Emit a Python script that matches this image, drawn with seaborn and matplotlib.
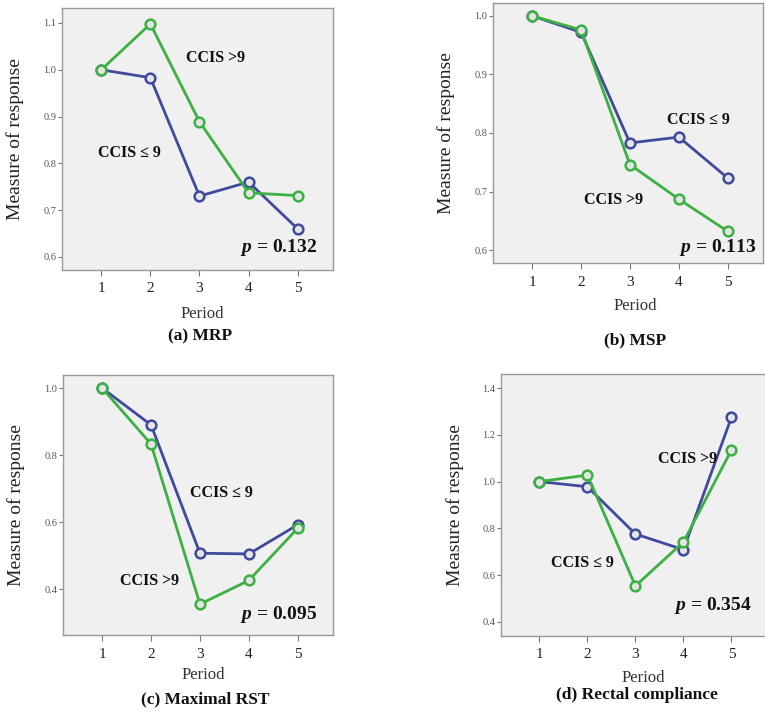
import matplotlib
matplotlib.use('Agg')
import matplotlib.pyplot as plt
import numpy as np
import pandas as pd
import seaborn as sns

periods = [1, 2, 3, 4, 5]

mrp_low = [1.000, 0.983, 0.730, 0.760, 0.660]
mrp_high = [1.000, 1.098, 0.889, 0.737, 0.731]

msp_low = [1.000, 0.972, 0.783, 0.793, 0.723]
msp_high = [1.000, 0.976, 0.746, 0.687, 0.632]

rst_low = [1.000, 0.890, 0.507, 0.505, 0.592]
rst_high = [1.000, 0.833, 0.355, 0.426, 0.582]

comp_low = [1.000, 0.978, 0.776, 0.709, 1.275]
comp_high = [1.000, 1.028, 0.554, 0.742, 1.135]

groups = ['CCIS \u2264 9', 'CCIS >9']
captions = ['(a) MRP', '(b) MSP', '(c) Maximal RST', '(d) Rectal compliance']
p_values = ['0.132', '0.113', '0.095', '0.354']

yticks_set = [
    [0.6, 0.7, 0.8, 0.9, 1.0, 1.1],
    [0.6, 0.7, 0.8, 0.9, 1.0],
    [0.4, 0.6, 0.8, 1.0],
    [0.4, 0.6, 0.8, 1.0, 1.2, 1.4],
]
ylims = [(0.572, 1.132), (0.578, 1.022), (0.263, 1.039), (0.34, 1.46)]

BLUE = '#3f4a9e'
GREEN = '#3cb043'

sns.set_theme(style='ticks')
plt.rcParams['font.family'] = ['Liberation Serif', 'DejaVu Serif']
plt.rcParams['mathtext.fontset'] = 'custom'
plt.rcParams['mathtext.it'] = 'Liberation Serif:italic:bold'
plt.rcParams['mathtext.rm'] = 'Liberation Serif:bold'

W, H = 765, 717
fig = plt.figure(figsize=(W / 100, H / 100), dpi=100)

# axes boxes in pixels: left, top, right, bottom
boxes = [(62, 8, 333, 270), (493, 3, 763, 263), (63, 375, 333, 635), (501, 374, 766, 636)]

# label positions (axes fraction) : (low label, high label, p value)
low_pos = [(0.25, 0.447), (0.76, 0.55), (0.585, 0.546), (0.307, 0.279)]
high_pos = [(0.565, 0.81), (0.445, 0.242), (0.322, 0.208), (0.705, 0.675)]
p_pos = [(0.80, 0.084), (0.833, 0.058), (0.797, 0.077), (0.80, 0.118)]

# period label / caption centres in pixels
period_xy = [(202, 314), (635, 306), (203, 675), (643, 678)]
caption_xy = [(200, 336), (635, 340), (205, 699), (637, 695)]

panels = [(mrp_low, mrp_high), (msp_low, msp_high), (rst_low, rst_high), (comp_low, comp_high)]

for i, (low, high) in enumerate(panels):
    l, t, r, b = boxes[i]
    ax = fig.add_axes([l / W, (H - b) / H, (r - l) / W, (b - t) / H])
    ax.set_facecolor('#f0f0f0')
    df = pd.DataFrame({
        'period': periods * 2,
        'value': low + high,
        'group': [groups[0]] * 5 + [groups[1]] * 5,
    })
    for g, c in zip(groups, [BLUE, GREEN]):
        sns.lineplot(data=df[df['group'] == g], x='period', y='value', color=c, ax=ax,
                     linewidth=2, marker='o', markersize=7, markeredgecolor=c,
                     markeredgewidth=1.8, markerfacecolor='#e4e4e4', legend=False)
    ax.set_xlim(0.2, 5.72)
    ax.set_ylim(*ylims[i])
    ax.set_xticks(periods)
    ax.set_xticklabels([str(p) for p in periods], fontsize=11, color='#222222')
    ax.set_yticks(yticks_set[i])
    ax.set_yticklabels(['{:.1f}'.format(v) for v in yticks_set[i]], fontsize=7.5, color='#555555')
    ax.tick_params(axis='y', length=3, width=0.8, color='#777777', pad=1)
    ax.tick_params(axis='x', length=4, width=0.8, color='#777777', pad=5)
    for s in ax.spines.values():
        s.set_color('#999999')
        s.set_linewidth(1.0)
    ax.set_xlabel('')
    ax.set_ylabel('Measure of response', fontsize=14, color='#222222')
    ax.yaxis.set_label_coords(-0.14, 0.5)

    ax.text(*low_pos[i], groups[0], transform=ax.transAxes, ha='center', va='center',
            fontsize=11.5, fontweight='bold', color='#111111')
    ax.text(*high_pos[i], groups[1], transform=ax.transAxes, ha='center', va='center',
            fontsize=11.5, fontweight='bold', color='#111111')
    ax.text(*p_pos[i], r'$p$' + ' = ' + p_values[i], transform=ax.transAxes,
            ha='center', va='center', fontsize=14, fontweight='bold', color='#111111')

    px, py = period_xy[i]
    fig.text(px / W, 1 - py / H, 'Period', ha='center', va='center', fontsize=12, color='#333333')
    cx, cy = caption_xy[i]
    fig.text(cx / W, 1 - cy / H, captions[i], ha='center', va='center', fontsize=12.5,
             fontweight='bold', color='#111111')

fig.savefig('out.png', dpi=100, facecolor='white')
